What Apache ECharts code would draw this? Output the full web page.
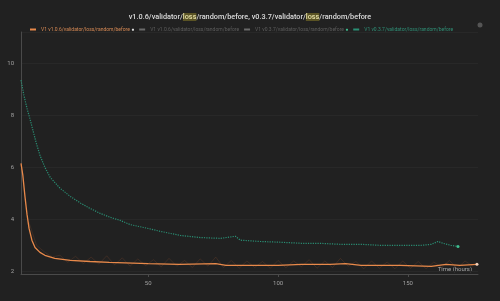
<!DOCTYPE html>
<html><head><meta charset="utf-8">
<script src="https://cdn.jsdelivr.net/npm/echarts@6/dist/echarts.min.js"></script>
<style>html,body{margin:0;padding:0;background:#111;}#c{width:500px;height:301px;}</style>
</head><body><div id="c"></div>
<script>
// Orange (v1.0.6) smoothed
const orangeX = [1,1.7,2.5,3.3,4.1,5.2,6.4,8.3,10.2,14,20,27.6,35,50,62,76,80,93,100,109,120,126,132,147,159,164.7,170,176.6];
const orangeY = [6.15,5.7,4.9,4.2,3.65,3.2,2.92,2.73,2.62,2.5,2.42,2.38,2.35,2.3,2.27,2.3,2.23,2.23,2.23,2.27,2.27,2.3,2.23,2.23,2.19,2.27,2.23,2.27];
// Orange raw (faint)
const rawX = [4,7,10,13,16,19,22,25,28,31,34,37,40,43,46,49,52,55,58,61,64,67,70,73,76,79,82,85,88,91,94,97,100,103,106,109,112,115,118,121,124,127,130,133,136,139,142,145,148,151,154,157,160,163,166,169,172,175];
const rawY = [3.9,3.0,2.75,2.55,2.62,2.35,2.58,2.3,2.55,2.28,2.6,2.25,2.52,2.2,2.48,2.22,2.45,2.18,2.5,2.2,2.42,2.15,2.48,2.2,2.55,2.15,2.42,2.12,2.4,2.15,2.38,2.12,2.42,2.14,2.4,2.18,2.45,2.12,2.4,2.15,2.5,2.2,2.38,2.1,2.4,2.12,2.36,2.1,2.4,2.12,2.38,2.1,2.36,2.15,2.42,2.12,2.4,2.2];
// Green (v0.3.7)
const greenX = [1,2.1,3.3,4.4,5.6,6.8,8.3,10.2,12.2,16,20,24,27.6,31.5,35.3,39.2,43,50,54.6,62.4,70,77.8,83.6,85.5,93,101,109,116,124,132,139.6,147,155,159,161.6,163.5,166.6,169.3];
const greenY = [9.35,8.77,8.27,7.88,7.42,6.96,6.46,6.0,5.62,5.2,4.88,4.62,4.42,4.23,4.08,3.96,3.8,3.65,3.54,3.38,3.3,3.27,3.35,3.2,3.15,3.12,3.08,3.08,3.04,3.04,3.0,3.0,3.0,3.04,3.15,3.08,3.0,2.96];
const legendNames = ['V1 v1.0.6/validator/loss/random/before','V1 v1.0.6/validator/loss/random/before','V1 v0.3.7/validator/loss/random/before','V1 v0.3.7/validator/loss/random/before'];
const xTicks = [50,100,150];
const yTicks = [2,4,6,8,10];

function pairs(xs, ys, endDot, dotColor){
  return xs.map((x,i)=>{
    if(endDot && i===xs.length-1) return {value:[x,ys[i]], symbol:'circle', symbolSize:3, itemStyle:{color:dotColor}};
    return [x,ys[i]];
  });
}
const ORANGE='#e8894a', GREEN='#2a8f74', GRAY='#6a6a6a';
const chart = echarts.init(document.getElementById('c'), null, {renderer:'canvas'});
const FONT = 'Roboto';
chart.setOption({
  backgroundColor:'#212121',
  animation:false,
  textStyle:{fontFamily:FONT},
  title:{
    left:'center', top:8,
    text:'{t|v1.0.6/validator/}{h|loss}{t|/random/before, v0.3.7/validator/}{h|loss}{t|/random/before}',
    textStyle:{rich:{
      t:{fontSize:7.3,color:'#dcdcdc',fontFamily:FONT,fontWeight:500},
      h:{fontSize:7.3,color:'#e6e0a8',backgroundColor:'#5a5324',fontFamily:FONT,fontWeight:500,padding:[1,0,0,0]}
    }}
  },
  legend:{
    top:22, left:25, itemWidth:6, itemHeight:2, itemGap:5, icon:'rect',
    data:[
      {name:'a', itemStyle:{color:ORANGE}},
      {name:'b', itemStyle:{color:GRAY}},
      {name:'c', itemStyle:{color:GRAY}},
      {name:'d', itemStyle:{color:GREEN}}
    ],
    formatter:function(n){
      const i = {a:0,b:1,c:2,d:3}[n];
      const s = legendNames[i];
      if(n==='a') return '{o|'+s+'} {od|●}';
      if(n==='b') return '{g|'+s+'}';
      if(n==='c') return '{g|'+s+'} {gd|●}';
      return '{gr|'+s+'}';
    },
    textStyle:{fontSize:5,rich:{
      o:{fontSize:5,color:'#d88a55',fontFamily:FONT},
      od:{fontSize:5,color:'#e0e0e0'},
      g:{fontSize:5,color:'#5d5d5d',fontFamily:FONT},
      gd:{fontSize:5,color:'#3fbf90'},
      gr:{fontSize:5,color:'#2f8f76',fontFamily:FONT}
    }}
  },
  grid:{left:21,right:22,top:32,bottom:27},
  xAxis:{
    type:'value', min:1, max:177,
    axisLine:{show:true,lineStyle:{color:'#4a4a4a',width:1}},
    axisTick:{show:true,length:3,lineStyle:{color:'#4a4a4a'},customValues:xTicks},
    axisLabel:{color:'#a0a0a0',fontSize:6,margin:6,customValues:xTicks},
    splitLine:{show:false}
  },
  yAxis:{
    type:'value', min:1.9, max:11.2,
    axisLine:{show:true,lineStyle:{color:'#4a4a4a',width:1}},
    axisTick:{show:false},
    axisLabel:{color:'#a0a0a0',fontSize:6,margin:7,customValues:yTicks},
    splitLine:{show:true,lineStyle:{color:'#282828',width:1}}
  },
  series:[
    {name:'b', type:'line', data:pairs(rawX,rawY,false), showSymbol:false, symbol:'none',
      lineStyle:{color:'rgba(190,100,55,0.22)',width:0.8}, itemStyle:{color:GRAY}, z:1},
    {name:'c', type:'line', data:[], symbol:'none', itemStyle:{color:GRAY}},
    {name:'d', type:'line', data:pairs(greenX,greenY,true,'#3fbf90'), symbol:'none',
      lineStyle:{color:GREEN,width:1.2,type:[1.2,1.2]}, itemStyle:{color:GREEN}, z:3},
    {name:'a', type:'line', data:pairs(orangeX,orangeY,true,'#f3d0b8'), symbol:'none',
      lineStyle:{color:ORANGE,width:1.3}, itemStyle:{color:ORANGE}, z:4}
  ],
  graphic:[
    {type:'circle', shape:{cx:480,cy:25,r:2.5}, style:{fill:'#555'}},
    {type:'text', right:28, bottom:29, style:{text:'Time (hours)', fill:'#a8a8a8', fontSize:6, fontFamily:FONT}}
  ]
});
</script></body></html>
